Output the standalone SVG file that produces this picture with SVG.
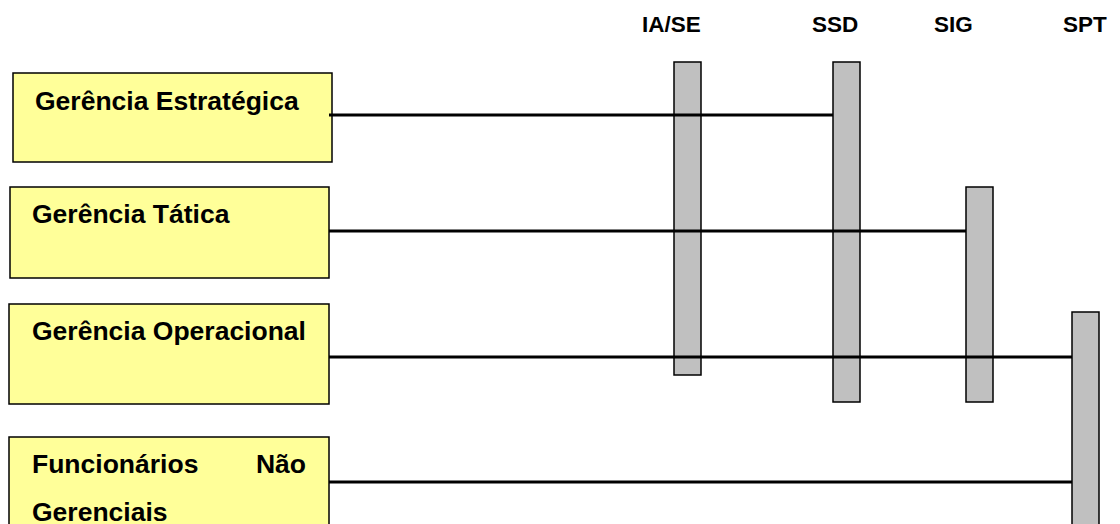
<svg xmlns="http://www.w3.org/2000/svg" width="1120" height="524" viewBox="0 0 1120 524">
<style>
.box{fill:#FFFF99;stroke:#000;stroke-width:1.5}
.bar{fill:#C0C0C0;stroke:#000;stroke-width:1.5}
.t{font-family:"Liberation Sans",Arial,sans-serif;font-weight:bold;font-size:26.5px;fill:#000}
.h{font-family:"Liberation Sans",Arial,sans-serif;font-weight:bold;font-size:22.5px;fill:#000}
.ln{stroke:#000;stroke-width:3.2;fill:none}
</style>
<rect width="1120" height="524" fill="#fff"/>
<g id="headers">
<text class="h" x="642" y="32">IA/SE</text>
<text class="h" x="812" y="32">SSD</text>
<text class="h" x="934" y="32">SIG</text>
<text class="h" x="1063" y="32">SPT</text>
</g>
<g id="node-estrategica">
<rect class="box" x="13" y="73" width="319" height="89"/>
<text class="t" x="35" y="110">Gerência Estratégica</text>
</g>
<g id="node-tatica">
<rect class="box" x="10" y="187" width="319" height="91"/>
<text class="t" x="32" y="223">Gerência Tática</text>
</g>
<g id="node-operacional">
<rect class="box" x="9" y="304" width="320" height="100"/>
<text class="t" x="32" y="340">Gerência Operacional</text>
</g>
<g id="node-funcionarios">
<rect class="box" x="9" y="437" width="320" height="100"/>
<text class="t" x="32" y="473">Funcionários</text>
<text class="t" x="306" y="473" text-anchor="end">Não</text>
<text class="t" x="32" y="521">Gerenciais</text>
</g>
<g id="bar-iase"><rect class="bar" x="674" y="62" width="27" height="313"/></g>
<g id="bar-ssd"><rect class="bar" x="833" y="62" width="27" height="340"/></g>
<g id="bar-sig"><rect class="bar" x="966" y="187" width="27" height="215"/></g>
<g id="bar-spt"><rect class="bar" x="1072" y="312" width="27" height="220"/></g>
<g id="connectors">
<line class="ln" x1="329" y1="115" x2="833" y2="115"/>
<line class="ln" x1="329" y1="231" x2="966" y2="231"/>
<line class="ln" x1="329" y1="357" x2="1072" y2="357"/>
<line class="ln" x1="329" y1="482" x2="1072" y2="482"/>
</g>
</svg>
